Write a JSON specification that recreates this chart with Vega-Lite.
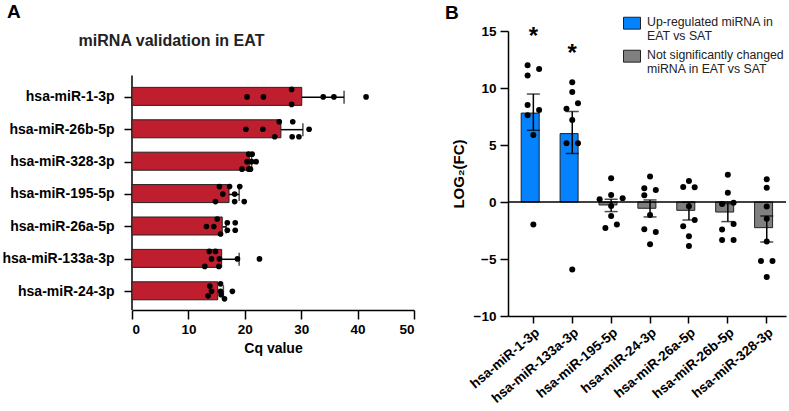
{
  "$schema": "https://vega.github.io/schema/vega-lite/v6.json",
  "padding": {"left": 1, "top": 3, "right": 0, "bottom": 0},
  "background": "white",
  "spacing": 30,
  "config": {
    "font": "Liberation Sans",
    "view": {"stroke": null},
    "axis": {"domainColor": "#000", "domainWidth": 1.5, "tickColor": "#000", "tickWidth": 1.5, "tickSize": 8, "labelColor": "#000", "labelFont": "Liberation Sans", "labelFontWeight": "bold", "labelFontSize": 13, "titleFont": "Liberation Sans", "titleFontWeight": "bold", "titleFontSize": 14, "titleColor": "#000", "grid": false},
    "title": {"font": "Liberation Sans", "fontWeight": "bold", "fontSize": 19, "color": "#000", "anchor": "start", "frame": "bounds", "baseline": "alphabetic"}
  },
  "datasets": {
    "a_summary": [
      {"mirna": "hsa-miR-1-3p", "mean": 30.1, "upper": 37.6},
      {"mirna": "hsa-miR-26b-5p", "mean": 26.4, "upper": 30.3},
      {"mirna": "hsa-miR-328-3p", "mean": 20.8, "upper": 21.2},
      {"mirna": "hsa-miR-195-5p", "mean": 17.2, "upper": 19.0},
      {"mirna": "hsa-miR-26a-5p", "mean": 16.0, "upper": 16.7},
      {"mirna": "hsa-miR-133a-3p", "mean": 15.9, "upper": 19.0},
      {"mirna": "hsa-miR-24-3p", "mean": 15.2, "upper": 16.2}
    ],
    "a_points": [
      {"mirna": "hsa-miR-1-3p", "cq": 20.4, "lane": 0},
      {"mirna": "hsa-miR-1-3p", "cq": 23.3, "lane": 0},
      {"mirna": "hsa-miR-1-3p", "cq": 28.3, "lane": -1},
      {"mirna": "hsa-miR-1-3p", "cq": 28.3, "lane": 1},
      {"mirna": "hsa-miR-1-3p", "cq": 33.9, "lane": 0},
      {"mirna": "hsa-miR-1-3p", "cq": 35.8, "lane": 0},
      {"mirna": "hsa-miR-1-3p", "cq": 41.5, "lane": 0},
      {"mirna": "hsa-miR-26b-5p", "cq": 20.2, "lane": 0},
      {"mirna": "hsa-miR-26b-5p", "cq": 23.2, "lane": 0},
      {"mirna": "hsa-miR-26b-5p", "cq": 26.1, "lane": -1},
      {"mirna": "hsa-miR-26b-5p", "cq": 25.3, "lane": 1},
      {"mirna": "hsa-miR-26b-5p", "cq": 28.5, "lane": -1},
      {"mirna": "hsa-miR-26b-5p", "cq": 28.4, "lane": 1},
      {"mirna": "hsa-miR-26b-5p", "cq": 29.6, "lane": 1},
      {"mirna": "hsa-miR-26b-5p", "cq": 31.4, "lane": 0},
      {"mirna": "hsa-miR-328-3p", "cq": 20.7, "lane": -1},
      {"mirna": "hsa-miR-328-3p", "cq": 21.3, "lane": -1},
      {"mirna": "hsa-miR-328-3p", "cq": 20.4, "lane": 0},
      {"mirna": "hsa-miR-328-3p", "cq": 21.2, "lane": 0},
      {"mirna": "hsa-miR-328-3p", "cq": 22.0, "lane": 0},
      {"mirna": "hsa-miR-328-3p", "cq": 19.5, "lane": 1},
      {"mirna": "hsa-miR-328-3p", "cq": 20.7, "lane": 1},
      {"mirna": "hsa-miR-328-3p", "cq": 21.0, "lane": 1},
      {"mirna": "hsa-miR-195-5p", "cq": 15.5, "lane": -1},
      {"mirna": "hsa-miR-195-5p", "cq": 17.3, "lane": -1},
      {"mirna": "hsa-miR-195-5p", "cq": 19.1, "lane": -1},
      {"mirna": "hsa-miR-195-5p", "cq": 16.1, "lane": 0},
      {"mirna": "hsa-miR-195-5p", "cq": 18.2, "lane": 0},
      {"mirna": "hsa-miR-195-5p", "cq": 14.8, "lane": 1},
      {"mirna": "hsa-miR-195-5p", "cq": 18.2, "lane": 1},
      {"mirna": "hsa-miR-195-5p", "cq": 19.9, "lane": 1},
      {"mirna": "hsa-miR-26a-5p", "cq": 15.1, "lane": -1},
      {"mirna": "hsa-miR-26a-5p", "cq": 13.2, "lane": 0},
      {"mirna": "hsa-miR-26a-5p", "cq": 14.5, "lane": 0},
      {"mirna": "hsa-miR-26a-5p", "cq": 15.7, "lane": 1},
      {"mirna": "hsa-miR-26a-5p", "cq": 16.9, "lane": -0.5},
      {"mirna": "hsa-miR-26a-5p", "cq": 18.3, "lane": -0.5},
      {"mirna": "hsa-miR-26a-5p", "cq": 16.9, "lane": 0.5},
      {"mirna": "hsa-miR-26a-5p", "cq": 18.3, "lane": 0.5},
      {"mirna": "hsa-miR-133a-3p", "cq": 13.7, "lane": -1},
      {"mirna": "hsa-miR-133a-3p", "cq": 14.8, "lane": -1},
      {"mirna": "hsa-miR-133a-3p", "cq": 14.1, "lane": 0},
      {"mirna": "hsa-miR-133a-3p", "cq": 15.5, "lane": 0},
      {"mirna": "hsa-miR-133a-3p", "cq": 18.7, "lane": 0},
      {"mirna": "hsa-miR-133a-3p", "cq": 22.6, "lane": 0},
      {"mirna": "hsa-miR-133a-3p", "cq": 12.9, "lane": 1},
      {"mirna": "hsa-miR-133a-3p", "cq": 15.4, "lane": 1},
      {"mirna": "hsa-miR-24-3p", "cq": 15.7, "lane": -1},
      {"mirna": "hsa-miR-24-3p", "cq": 13.8, "lane": -0.7},
      {"mirna": "hsa-miR-24-3p", "cq": 14.1, "lane": 0},
      {"mirna": "hsa-miR-24-3p", "cq": 15.7, "lane": 0},
      {"mirna": "hsa-miR-24-3p", "cq": 17.8, "lane": 0},
      {"mirna": "hsa-miR-24-3p", "cq": 13.5, "lane": 0.6},
      {"mirna": "hsa-miR-24-3p", "cq": 16.4, "lane": 1},
      {"mirna": "hsa-miR-24-3p", "cq": 15.8, "lane": 0.45}
    ],
    "b_summary": [
      {"mirna": "hsa-miR-1-3p", "group": "up", "mean": 7.8, "lo": 6.29, "hi": 9.47},
      {"mirna": "hsa-miR-133a-3p", "group": "up", "mean": 6.0, "lo": 4.25, "hi": 7.93},
      {"mirna": "hsa-miR-195-5p", "group": "ns", "mean": -0.26, "lo": -0.84, "hi": 0.24},
      {"mirna": "hsa-miR-24-3p", "group": "ns", "mean": -0.55, "lo": -1.31, "hi": 0.18},
      {"mirna": "hsa-miR-26a-5p", "group": "ns", "mean": -0.73, "lo": -1.58, "hi": -0.03},
      {"mirna": "hsa-miR-26b-5p", "group": "ns", "mean": -0.88, "lo": -1.72, "hi": -0.14},
      {"mirna": "hsa-miR-328-3p", "group": "ns", "mean": -2.25, "lo": -3.5, "hi": -1.23}
    ],
    "b_points": [
      {"mirna": "hsa-miR-1-3p", "fc": 12.0, "lane": -1},
      {"mirna": "hsa-miR-1-3p", "fc": 11.67, "lane": 1},
      {"mirna": "hsa-miR-1-3p", "fc": 11.1, "lane": -1},
      {"mirna": "hsa-miR-1-3p", "fc": 8.5, "lane": -1},
      {"mirna": "hsa-miR-1-3p", "fc": 8.07, "lane": 1},
      {"mirna": "hsa-miR-1-3p", "fc": 7.6, "lane": -1},
      {"mirna": "hsa-miR-1-3p", "fc": 5.88, "lane": 0},
      {"mirna": "hsa-miR-1-3p", "fc": -1.98, "lane": 0},
      {"mirna": "hsa-miR-133a-3p", "fc": 10.5, "lane": 0},
      {"mirna": "hsa-miR-133a-3p", "fc": 9.65, "lane": 0},
      {"mirna": "hsa-miR-133a-3p", "fc": 8.19, "lane": -1},
      {"mirna": "hsa-miR-133a-3p", "fc": 8.66, "lane": 1},
      {"mirna": "hsa-miR-133a-3p", "fc": 7.2, "lane": 0},
      {"mirna": "hsa-miR-133a-3p", "fc": 5.15, "lane": -1},
      {"mirna": "hsa-miR-133a-3p", "fc": 5.15, "lane": 1},
      {"mirna": "hsa-miR-133a-3p", "fc": -5.93, "lane": 0},
      {"mirna": "hsa-miR-195-5p", "fc": 2.08, "lane": 0},
      {"mirna": "hsa-miR-195-5p", "fc": 0.24, "lane": -2},
      {"mirna": "hsa-miR-195-5p", "fc": 0.62, "lane": 0},
      {"mirna": "hsa-miR-195-5p", "fc": 0.32, "lane": 2},
      {"mirna": "hsa-miR-195-5p", "fc": -0.35, "lane": 0},
      {"mirna": "hsa-miR-195-5p", "fc": -1.23, "lane": 0},
      {"mirna": "hsa-miR-195-5p", "fc": -2.28, "lane": -1},
      {"mirna": "hsa-miR-195-5p", "fc": -1.98, "lane": 1},
      {"mirna": "hsa-miR-24-3p", "fc": 2.23, "lane": 0},
      {"mirna": "hsa-miR-24-3p", "fc": 1.2, "lane": -1},
      {"mirna": "hsa-miR-24-3p", "fc": 1.05, "lane": 1},
      {"mirna": "hsa-miR-24-3p", "fc": 0.59, "lane": -1},
      {"mirna": "hsa-miR-24-3p", "fc": -1.14, "lane": 0},
      {"mirna": "hsa-miR-24-3p", "fc": -2.4, "lane": -1},
      {"mirna": "hsa-miR-24-3p", "fc": -2.63, "lane": 1},
      {"mirna": "hsa-miR-24-3p", "fc": -3.71, "lane": 0},
      {"mirna": "hsa-miR-26a-5p", "fc": 1.32, "lane": -1},
      {"mirna": "hsa-miR-26a-5p", "fc": 1.84, "lane": 0},
      {"mirna": "hsa-miR-26a-5p", "fc": 1.3, "lane": 1},
      {"mirna": "hsa-miR-26a-5p", "fc": -0.38, "lane": 0},
      {"mirna": "hsa-miR-26a-5p", "fc": -1.58, "lane": 1},
      {"mirna": "hsa-miR-26a-5p", "fc": -2.12, "lane": -1},
      {"mirna": "hsa-miR-26a-5p", "fc": -3.0, "lane": 0},
      {"mirna": "hsa-miR-26a-5p", "fc": -3.86, "lane": 0},
      {"mirna": "hsa-miR-26b-5p", "fc": 2.4, "lane": 0},
      {"mirna": "hsa-miR-26b-5p", "fc": 0.82, "lane": 0},
      {"mirna": "hsa-miR-26b-5p", "fc": -0.17, "lane": -1},
      {"mirna": "hsa-miR-26b-5p", "fc": -0.06, "lane": 1},
      {"mirna": "hsa-miR-26b-5p", "fc": -2.42, "lane": -1},
      {"mirna": "hsa-miR-26b-5p", "fc": -1.93, "lane": 1},
      {"mirna": "hsa-miR-26b-5p", "fc": -3.33, "lane": -1},
      {"mirna": "hsa-miR-26b-5p", "fc": -3.33, "lane": 1},
      {"mirna": "hsa-miR-328-3p", "fc": 1.99, "lane": 0},
      {"mirna": "hsa-miR-328-3p", "fc": 1.26, "lane": 0},
      {"mirna": "hsa-miR-328-3p", "fc": -0.4, "lane": 0},
      {"mirna": "hsa-miR-328-3p", "fc": -1.46, "lane": 0},
      {"mirna": "hsa-miR-328-3p", "fc": -3.47, "lane": 0},
      {"mirna": "hsa-miR-328-3p", "fc": -5.17, "lane": -1},
      {"mirna": "hsa-miR-328-3p", "fc": -5.17, "lane": 1},
      {"mirna": "hsa-miR-328-3p", "fc": -6.58, "lane": 0}
    ]
  },
  "hconcat": [
    {
      "title": {"text": "A", "dx": 5, "offset": 8.7},
      "width": 282,
      "height": 279,
      "layer": [
        {
          "data": {"name": "a_summary"},
          "mark": {"type": "rule", "color": "#000", "strokeWidth": 1.5},
          "encoding": {
            "y": {"field": "mirna", "type": "nominal", "sort": null,
              "scale": {"domain": ["hsa-miR-1-3p", "hsa-miR-26b-5p", "hsa-miR-328-3p", "hsa-miR-195-5p", "hsa-miR-26a-5p", "hsa-miR-133a-3p", "hsa-miR-24-3p"], "paddingInner": 0.39, "paddingOuter": 1.17, "align": 0.87},
              "axis": {"title": null, "labelPadding": 10, "tickSize": 8, "labelFontSize": 14, "domain": false}},
            "x": {"field": "mean", "type": "quantitative", "scale": {"domain": [0, 50], "nice": false, "zero": true}, "axis": null},
            "x2": {"field": "upper"}
          }
        },
        {
          "data": {"values": [{"cq": 0}]},
          "mark": {"type": "rule", "color": "#000", "strokeWidth": 1.5},
          "encoding": {
            "x": {"field": "cq", "type": "quantitative", "axis": null},
            "y": {"datum": "hsa-miR-1-3p", "type": "nominal", "bandPosition": -0.6},
            "y2": {"value": "height"}
          }
        },
        {
          "data": {"name": "a_summary"},
          "mark": {"type": "tick", "orient": "vertical", "color": "#000", "thickness": 1.5, "size": 13},
          "encoding": {
            "y": {"field": "mirna", "type": "nominal", "sort": null},
            "x": {"field": "upper", "type": "quantitative", "axis": null}
          }
        },
        {
          "data": {"name": "a_summary"},
          "mark": {"type": "bar", "fill": "#BE1E2D", "stroke": "#222", "strokeWidth": 1},
          "encoding": {
            "y": {"field": "mirna", "type": "nominal", "sort": null},
            "x": {"field": "mean", "type": "quantitative",
              "axis": {"values": [0, 10, 20, 30, 40, 50], "title": "Cq value", "titlePadding": 6, "labelPadding": 3, "tickSize": 9, "labelFontSize": 13.5, "titleFontSize": 14}}
          }
        },
        {
          "data": {"name": "a_points"},
          "mark": {"type": "circle", "color": "#000", "opacity": 1, "size": 32},
          "encoding": {
            "y": {"field": "mirna", "type": "nominal", "sort": null},
            "yOffset": {"field": "lane", "type": "quantitative", "scale": {"domain": [-1, 1], "range": [2, 17]}},
            "x": {"field": "cq", "type": "quantitative",
              "axis": {"orient": "top", "labels": false, "ticks": false, "domain": false, "title": "miRNA validation in EAT", "titleFontSize": 16, "titleX": 39, "titleY": 9, "titleAlign": "center", "titleBaseline": "middle", "titleColor": "#222"}}
          }
        }
      ],
      "resolve": {"axis": {"x": "independent"}}
    },
    {
      "title": {"text": "B", "dx": -6, "offset": 1},
      "width": 278,
      "height": 285,
      "layer": [
        {
          "data": {"name": "b_summary"},
          "mark": {"type": "bar", "stroke": "#222", "strokeWidth": 1},
          "encoding": {
            "x": {"field": "mirna", "type": "nominal", "sort": null,
              "scale": {"domain": ["hsa-miR-1-3p", "hsa-miR-133a-3p", "hsa-miR-195-5p", "hsa-miR-24-3p", "hsa-miR-26a-5p", "hsa-miR-26b-5p", "hsa-miR-328-3p"], "paddingInner": 0.375, "paddingOuter": 0.261, "align": 0.65},
              "axis": {"title": null, "labelAngle": -40, "labelAlign": "right", "labelBaseline": "top", "tickSize": 7, "labelPadding": 2, "labelFontSize": 13.5}},
            "y": {"field": "mean", "type": "quantitative", "scale": {"domain": [-10, 15], "nice": false},
              "axis": {"values": [-10, -5, 0, 5, 10, 15], "title": "LOG₂(FC)", "titleFontSize": 15, "titlePadding": 7, "labelPadding": 4, "tickSize": 8, "labelFontSize": 13.5}},
            "fill": {"field": "group", "type": "nominal",
              "scale": {"domain": ["up", "ns"], "range": ["#0583FF", "#808080"]},
              "legend": {"orient": "none", "legendX": 491, "legendY": -14, "title": null, "padding": 0,
                "symbolType": "M-1,-1.03L1,-1.03L1,0.37L-1,0.37Z", "symbolSize": 289, "symbolStrokeColor": "#222", "symbolStrokeWidth": 1, "symbolOpacity": 1,
                "labelFont": "Liberation Sans", "labelFontSize": 12.3, "labelFontWeight": "normal", "labelColor": "#222", "labelLimit": 240, "labelBaseline": "alphabetic", "labelOffset": 6, "rowPadding": 5,
                "labelExpr": "datum.value == 'up' ? ['Up-regulated miRNA in', 'EAT vs SAT'] : ['Not significantly changed', 'miRNA in EAT vs SAT']"}}
          }
        },
        {
          "data": {"values": [{"baseline": 0}]},
          "mark": {"type": "rule", "color": "#000", "strokeWidth": 1.5},
          "encoding": {"y": {"field": "baseline", "type": "quantitative"}}
        },
        {
          "data": {"name": "b_summary"},
          "mark": {"type": "rule", "color": "#000", "strokeWidth": 1.5},
          "encoding": {
            "x": {"field": "mirna", "type": "nominal", "sort": null},
            "y": {"field": "lo", "type": "quantitative"},
            "y2": {"field": "hi"}
          }
        },
        {
          "data": {"name": "b_summary"},
          "mark": {"type": "tick", "orient": "horizontal", "color": "#000", "thickness": 1.5, "size": 13},
          "encoding": {
            "x": {"field": "mirna", "type": "nominal", "sort": null},
            "y": {"field": "lo", "type": "quantitative"}
          }
        },
        {
          "data": {"name": "b_summary"},
          "mark": {"type": "tick", "orient": "horizontal", "color": "#000", "thickness": 1.5, "size": 13},
          "encoding": {
            "x": {"field": "mirna", "type": "nominal", "sort": null},
            "y": {"field": "hi", "type": "quantitative"}
          }
        },
        {
          "data": {"name": "b_points"},
          "mark": {"type": "circle", "color": "#000", "opacity": 1, "size": 36},
          "encoding": {
            "x": {"field": "mirna", "type": "nominal", "sort": null},
            "xOffset": {"field": "lane", "type": "quantitative", "scale": {"domain": [-2, 2], "range": [0.65, 23.65]}},
            "y": {"field": "fc", "type": "quantitative"}
          }
        },
        {
          "data": {"name": "b_points"},
          "transform": [
            {"filter": {"field": "mirna", "oneOf": ["hsa-miR-1-3p", "hsa-miR-133a-3p"]}},
            {"aggregate": [{"op": "max", "field": "fc", "as": "top"}], "groupby": ["mirna"]}
          ],
          "mark": {"type": "text", "text": "*", "fontSize": 24, "fontWeight": "bold", "font": "Liberation Sans", "color": "#000", "baseline": "middle", "dy": -28},
          "encoding": {
            "x": {"field": "mirna", "type": "nominal", "sort": null},
            "y": {"field": "top", "type": "quantitative"}
          }
        }
      ]
    }
  ]
}
